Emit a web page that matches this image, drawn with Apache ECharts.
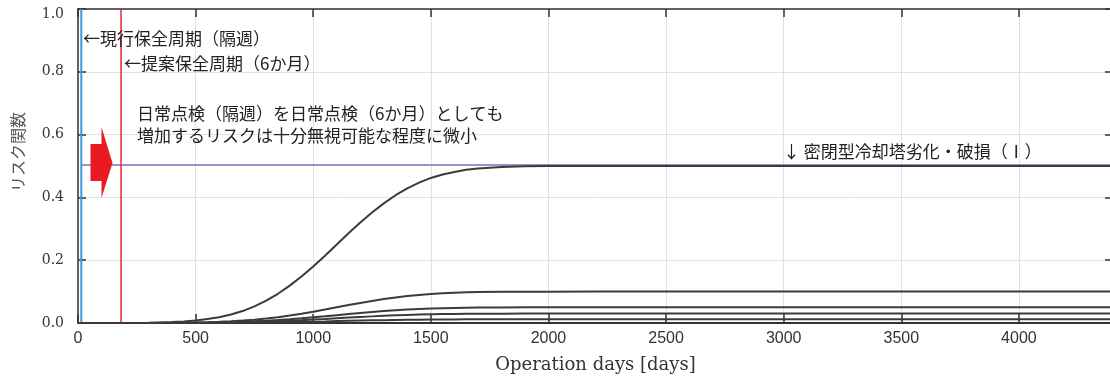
<!DOCTYPE html>
<html>
<head>
<meta charset="utf-8">
<script src="https://cdn.jsdelivr.net/npm/echarts@6/dist/echarts.min.js"></script>
<style>
  html, body { margin: 0; padding: 0; background: #fff; }
  #chart { width: 1110px; height: 378px; }
</style>
</head>
<body>
<div id="chart"></div>
<script>
// Operation days sampled along the risk curves
const days = [0, 100, 200, 300, 400, 450, 500, 550, 600, 650, 700, 750, 800, 850, 900, 950,
  1000, 1050, 1100, 1150, 1200, 1250, 1300, 1350, 1400, 1450, 1500, 1550, 1600, 1650, 1700,
  1800, 1900, 2000, 2200, 4400];

// Risk function values for each failure mode
const riskA = [0, 0.0001, 0.0003, 0.0011, 0.0031, 0.0051, 0.008, 0.0124, 0.0185, 0.027, 0.038,
  0.053, 0.071, 0.093, 0.119, 0.148, 0.180, 0.214, 0.25, 0.286, 0.320, 0.352, 0.381, 0.407,
  0.429, 0.447, 0.462, 0.473, 0.481, 0.488, 0.492, 0.497, 0.499, 0.4997, 0.5, 0.5];
const riskB = [0, 0, 0.0001, 0.0002, 0.0006, 0.001, 0.0016, 0.0025, 0.0037, 0.0054, 0.0076,
  0.0106, 0.0142, 0.0186, 0.0238, 0.0296, 0.036, 0.0428, 0.05, 0.0572, 0.064, 0.0704, 0.0762,
  0.0814, 0.0858, 0.0894, 0.0924, 0.0946, 0.0962, 0.0976, 0.0984, 0.0994, 0.0998, 0.0999, 0.1, 0.1];
const riskC = [0, 0, 0, 0.0001, 0.0003, 0.0005, 0.0008, 0.0012, 0.0019, 0.0027, 0.0038, 0.0053,
  0.0071, 0.0093, 0.0119, 0.0148, 0.018, 0.0214, 0.025, 0.0286, 0.032, 0.0352, 0.0381, 0.0407,
  0.0429, 0.0447, 0.0462, 0.0473, 0.0481, 0.0488, 0.0492, 0.0497, 0.0499, 0.05, 0.05, 0.05];
const riskD = [0, 0, 0, 0.0001, 0.0002, 0.0003, 0.0005, 0.0007, 0.0011, 0.0016, 0.0023, 0.0032,
  0.0043, 0.0056, 0.0071, 0.0089, 0.0108, 0.0128, 0.015, 0.0172, 0.0192, 0.0211, 0.0229, 0.0244,
  0.0257, 0.0268, 0.0277, 0.0284, 0.0289, 0.0293, 0.0295, 0.0298, 0.0299, 0.03, 0.03, 0.03];
const riskE = [0, 0, 0, 0, 0.0001, 0.0001, 0.0002, 0.0003, 0.0004, 0.0006, 0.0009, 0.0013,
  0.0017, 0.0022, 0.0029, 0.0036, 0.0043, 0.0051, 0.006, 0.0069, 0.0077, 0.0084, 0.0091, 0.0098,
  0.0103, 0.0107, 0.0111, 0.0114, 0.0115, 0.0117, 0.0118, 0.0119, 0.012, 0.012, 0.012, 0.012];

// Reference levels
const thresholdLevel = 0.503;      // risk level of the sealed cooling tower failure mode
const currentCycleDay = 14;        // current maintenance cycle (every two weeks)
const proposedCycleDay = 183;      // proposed maintenance cycle (six months)

// Axis settings
const xMax = 4400;
const xStep = 500;
const yTicks = [0.0, 0.2, 0.4, 0.6, 0.8, 1.0];

// Annotation texts
const noteCurrent = '←現行保全周期（隔週）';
const noteProposed = '←提案保全周期（6か月）';
const noteMain = ['日常点検（隔週）を日常点検（6か月）としても', '増加するリスクは十分無視可能な程度に微小'];
const noteMode = '↓ 密閉型冷却塔劣化・破損（Ⅰ）';
const xTitle = 'Operation days [days]';
const yTitle = 'リスク関数';

const pair = (xs, ys) => xs.map((x, i) => [x, ys[i]]);

const cjkFont = '"Noto Sans CJK JP", "Noto Sans", sans-serif';
const curveStyle = { color: '#3b3b3b', width: 2 };

const chart = echarts.init(document.getElementById('chart'), null, { renderer: 'canvas' });

const curve = (name, ys) => ({
  name, type: 'line', data: pair(days, ys), showSymbol: false, smooth: false,
  lineStyle: curveStyle, itemStyle: { color: curveStyle.color }, z: 5, animation: false
});

chart.setOption({
  animation: false,
  grid: { left: 78, top: 9, width: 1035, height: 314, containLabel: false, outerBoundsMode: 'none' },
  xAxis: [
    {
      type: 'value', min: 0, max: xMax, interval: xStep, position: 'bottom',
      name: xTitle, nameLocation: 'middle', nameGap: 33,
      nameTextStyle: { fontFamily: '"DejaVu Serif", serif', fontSize: 18, color: '#333' },
      axisLine: { show: true, onZero: false, lineStyle: { color: '#333', width: 2 } },
      axisTick: { show: true, inside: true, length: 9, lineStyle: { color: '#333', width: 1.5 } },
      axisLabel: {
        fontFamily: '"Liberation Sans", Arial, sans-serif', fontSize: 16, color: '#333', margin: 8,
        formatter: v => (v % xStep === 0 ? String(v) : '')
      },
      splitLine: { show: true, lineStyle: { color: '#e2e2e2', width: 1 } }
    },
    {
      type: 'value', min: 0, max: xMax, interval: xStep, position: 'top',
      axisLine: { show: true, onZero: false, lineStyle: { color: '#333', width: 1.5 } },
      axisTick: { show: true, inside: true, length: 8, lineStyle: { color: '#333', width: 1.5 } },
      axisLabel: { show: false },
      splitLine: { show: false }
    }
  ],
  yAxis: [
    {
      type: 'value', min: 0, max: 1, interval: 0.2, position: 'left',
      axisLine: { show: true, onZero: false, lineStyle: { color: '#333', width: 1.5 } },
      axisTick: { show: true, inside: true, length: 8, lineStyle: { color: '#333', width: 1.5 } },
      axisLabel: {
        fontFamily: '"DejaVu Serif", serif', fontSize: 14, color: '#333', margin: 14,
        formatter: v => {
          const t = yTicks.find(k => Math.abs(k - v) < 1e-9);
          if (t === undefined) return '';
          return t === 1 ? '{top|' + t.toFixed(1) + '}' : t.toFixed(1);
        },
        rich: { top: { fontFamily: '"DejaVu Serif", serif', fontSize: 14, color: '#333', padding: [10, 0, 0, 0] } }
      },
      splitLine: { show: true, lineStyle: { color: '#e2e2e2', width: 1 } }
    },
    {
      type: 'value', min: 0, max: 1, interval: 0.2, position: 'right',
      axisLine: { show: true, onZero: false, lineStyle: { color: '#333', width: 1.5 } },
      axisTick: { show: true, inside: true, length: 8, lineStyle: { color: '#333', width: 1.5 } },
      axisLabel: { show: false },
      splitLine: { show: false }
    }
  ],
  series: [
    {
      name: 'threshold', type: 'line', data: [[currentCycleDay, thresholdLevel], [xMax, thresholdLevel]],
      showSymbol: false, lineStyle: { color: '#a88ccb', width: 2 }, z: 3
    },
    {
      name: 'current', type: 'line', data: [[currentCycleDay, 0], [currentCycleDay, 1]],
      showSymbol: false, lineStyle: { color: '#3c9ade', width: 2 }, z: 4
    },
    {
      name: 'proposed', type: 'line', data: [[proposedCycleDay, 0], [proposedCycleDay, 1]],
      showSymbol: false, lineStyle: { color: '#e8272e', width: 1.5 }, z: 4
    },
    curve('riskE', riskE),
    curve('riskD', riskD),
    curve('riskC', riskC),
    curve('riskB', riskB),
    curve('riskA', riskA)
  ],
  graphic: [
    {
      type: 'polygon', z: 20,
      shape: { points: [[90.5, 144], [101.5, 144], [101.5, 127], [112.5, 163], [101.5, 198], [101.5, 181], [90.5, 181]] },
      style: { fill: '#e81b23' }
    },
    {
      type: 'text', x: 83, y: 38.5, z: 20,
      style: { text: noteCurrent, font: '17px ' + cjkFont, fill: '#222', verticalAlign: 'middle', align: 'left' }
    },
    {
      type: 'text', x: 124, y: 64, z: 20,
      style: { text: noteProposed, font: '17px ' + cjkFont, fill: '#222', verticalAlign: 'middle', align: 'left' }
    },
    {
      type: 'text', x: 137, y: 114, z: 20,
      style: { text: noteMain[0], font: '17px ' + cjkFont, fill: '#222', verticalAlign: 'middle', align: 'left' }
    },
    {
      type: 'text', x: 137, y: 135.5, z: 20,
      style: { text: noteMain[1], font: '17px ' + cjkFont, fill: '#222', verticalAlign: 'middle', align: 'left' }
    },
    {
      type: 'text', x: 783, y: 152, z: 20,
      style: { text: noteMode, font: '17px ' + cjkFont, fill: '#222', verticalAlign: 'middle', align: 'left' }
    },
    {
      type: 'text', x: 18, y: 152, rotation: Math.PI / 2, z: 20,
      style: { text: yTitle, font: '16px ' + cjkFont, fill: '#555', verticalAlign: 'middle', align: 'center' }
    }
  ]
});
</script>
</body>
</html>
